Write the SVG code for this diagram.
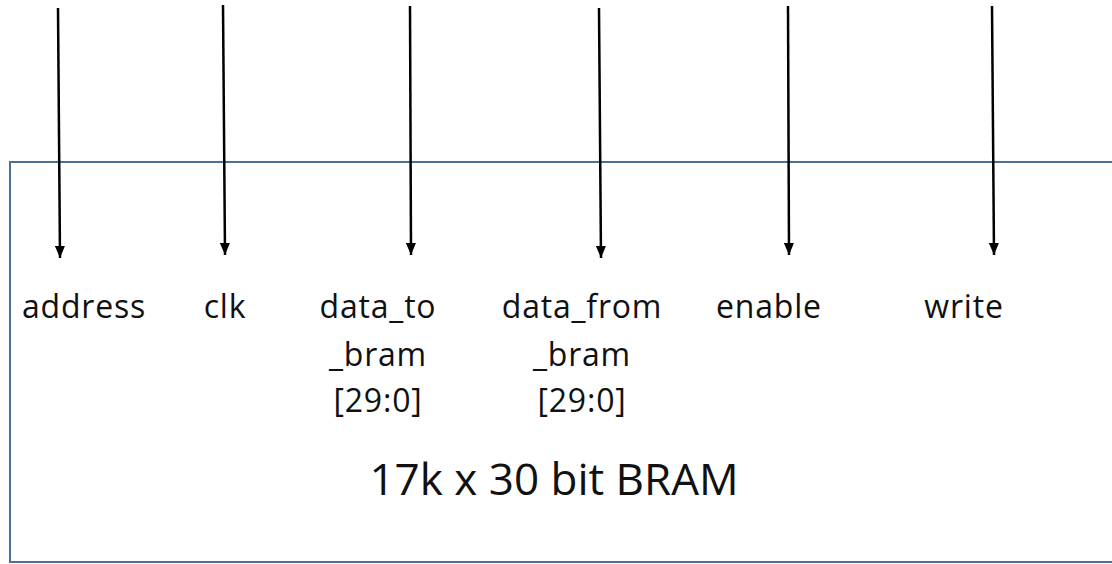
<svg xmlns="http://www.w3.org/2000/svg" width="1112" height="564" viewBox="0 0 1112 564">
  <defs>
    <marker id="arrow" viewBox="0 0 12 10" refX="12" refY="5" markerWidth="12" markerHeight="10" markerUnits="userSpaceOnUse" orient="auto">
      <path d="M0,0 L12,5 L0,10 Z" fill="#000"/>
    </marker>
    <style>
      .box { fill: #fff; stroke: #4a7194; stroke-width: 2; }
      .sig { stroke: #000; stroke-width: 2.5; fill: none; marker-end: url(#arrow); }
      .lbl { font-family: "Open Sans", "Noto Sans", sans-serif; font-size: 32px; letter-spacing: 0.8px; fill: #111; text-anchor: middle; }
      .title { font-family: "Open Sans", "Noto Sans", sans-serif; font-size: 44px; fill: #111; text-anchor: middle; }
    </style>
  </defs>
  <rect width="1112" height="564" fill="#fff"/>

  <g id="bram">
    <rect class="box" x="10" y="162" width="1110" height="400"/>
    <text class="title" x="554" y="495">17k x 30 bit BRAM</text>
  </g>

  <g id="port-address"><text class="lbl" x="84" y="318">address</text></g>
  <g id="port-clk"><text class="lbl" x="225" y="318">clk</text></g>
  <g id="port-data-to">
    <text class="lbl" x="378" y="318">data_to</text>
    <text class="lbl" x="378" y="366">_bram</text>
    <text class="lbl" x="378" y="412">[29:0]</text>
  </g>
  <g id="port-data-from">
    <text class="lbl" x="582" y="318">data_from</text>
    <text class="lbl" x="582" y="366">_bram</text>
    <text class="lbl" x="582" y="412">[29:0]</text>
  </g>
  <g id="port-enable"><text class="lbl" x="769" y="318">enable</text></g>
  <g id="port-write"><text class="lbl" x="964" y="318">write</text></g>

  <g id="connectors">
    <line class="sig" x1="58" y1="8" x2="60" y2="258"/>
    <line class="sig" x1="223" y1="5" x2="225" y2="255"/>
    <line class="sig" x1="410" y1="6" x2="411" y2="255"/>
    <line class="sig" x1="599" y1="8" x2="601" y2="258"/>
    <line class="sig" x1="788" y1="6" x2="789" y2="255"/>
    <line class="sig" x1="992" y1="6" x2="994" y2="255"/>
  </g>
</svg>
